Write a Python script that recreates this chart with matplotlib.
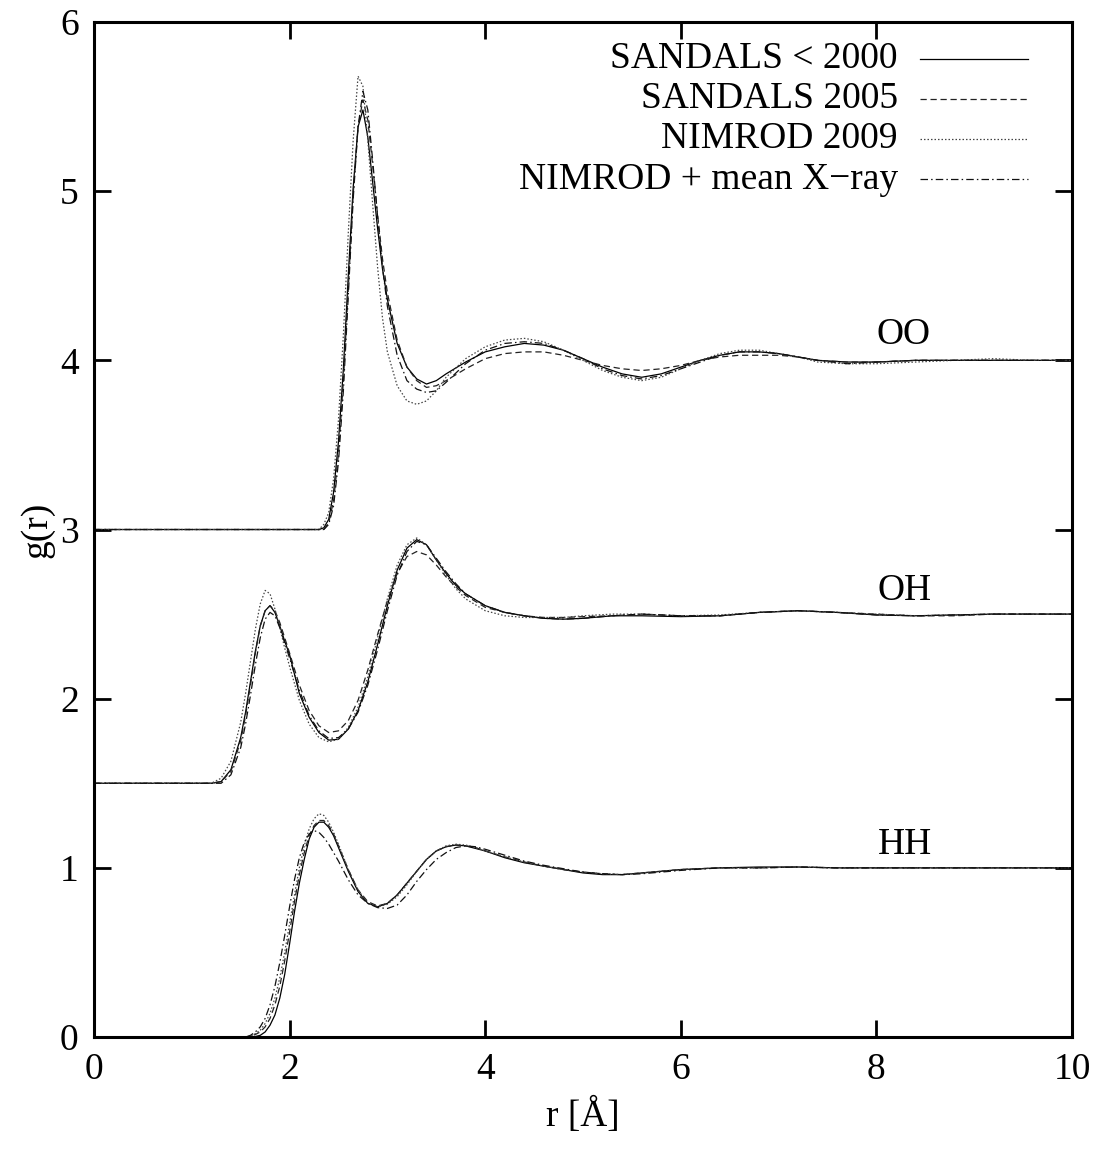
import matplotlib.pyplot as plt
from matplotlib import rcParams

rcParams['font.family'] = ['Liberation Serif', 'DejaVu Serif']
rcParams['mathtext.fontset'] = 'stix'

# ---- data (g(r) with vertical offsets already included) ----
series_names = ["SANDALS < 2000", "SANDALS 2005", "NIMROD 2009", "NIMROD + mean X\u2212ray"]

# OO, offset +3
r_oo = [0.0, 2.30, 2.35, 2.40, 2.45, 2.50, 2.55, 2.60, 2.65, 2.70, 2.75, 2.80, 2.85, 2.90,
        2.95, 3.00, 3.10, 3.20, 3.30, 3.40, 3.50, 3.60, 3.80, 4.00, 4.20, 4.40, 4.60, 4.80,
        5.00, 5.20, 5.40, 5.60, 5.80, 6.00, 6.20, 6.40, 6.60, 6.80, 7.00, 7.20, 7.40, 7.70,
        8.00, 8.40, 8.80, 9.20, 9.60, 10.0]
oo_sandals2000 = [3.00, 3.00, 3.01, 3.06, 3.22, 3.52, 3.95, 4.50, 5.02, 5.38, 5.48, 5.32, 5.05, 4.78,
                  4.54, 4.36, 4.10, 3.96, 3.89, 3.86, 3.88, 3.92, 3.99, 4.05, 4.08, 4.10, 4.09, 4.06,
                  4.01, 3.96, 3.92, 3.90, 3.92, 3.96, 4.00, 4.03, 4.05, 4.05, 4.04, 4.02, 4.00, 3.99,
                  3.99, 4.00, 4.00, 4.00, 4.00, 4.00]
oo_sandals2005 = [3.00, 3.00, 3.00, 3.04, 3.17, 3.45, 3.88, 4.42, 4.98, 5.38, 5.54, 5.42, 5.15, 4.86,
                  4.60, 4.40, 4.12, 3.96, 3.88, 3.84, 3.85, 3.88, 3.95, 4.01, 4.04, 4.05, 4.05, 4.03,
                  4.00, 3.97, 3.95, 3.94, 3.95, 3.97, 4.00, 4.02, 4.03, 4.03, 4.03, 4.02, 4.00, 3.99,
                  3.99, 4.00, 4.00, 4.00, 4.00, 4.00]
oo_nimrod2009 = [3.00, 3.00, 3.03, 3.10, 3.30, 3.65, 4.15, 4.75, 5.30, 5.68, 5.62, 5.30, 4.92, 4.55,
                 4.25, 4.05, 3.85, 3.76, 3.74, 3.76, 3.82, 3.90, 4.01, 4.08, 4.12, 4.13, 4.11, 4.06,
                 4.00, 3.94, 3.90, 3.88, 3.90, 3.95, 4.00, 4.04, 4.06, 4.06, 4.04, 4.02, 3.99, 3.98,
                 3.98, 3.99, 4.00, 4.01, 4.00, 4.00]
oo_xray = [3.00, 3.00, 3.00, 3.03, 3.14, 3.40, 3.82, 4.38, 4.95, 5.38, 5.59, 5.48, 5.18, 4.85,
           4.55, 4.32, 4.03, 3.88, 3.83, 3.81, 3.82, 3.87, 3.98, 4.06, 4.10, 4.11, 4.10, 4.06,
           4.01, 3.95, 3.91, 3.89, 3.91, 3.95, 3.99, 4.03, 4.05, 4.05, 4.04, 4.02, 4.00, 3.98,
           3.99, 4.00, 4.00, 4.00, 4.00, 4.00]

# OH, offset +1.5
r_oh = [0.0, 1.20, 1.30, 1.40, 1.50, 1.55, 1.60, 1.65, 1.70, 1.75, 1.80, 1.85, 1.90, 1.95,
        2.00, 2.10, 2.20, 2.30, 2.40, 2.50, 2.60, 2.70, 2.80, 2.90, 3.00, 3.10, 3.20, 3.30,
        3.40, 3.50, 3.60, 3.70, 3.80, 4.00, 4.20, 4.40, 4.60, 4.80, 5.00, 5.30, 5.60, 6.00,
        6.40, 6.80, 7.20, 7.60, 8.00, 8.40, 8.80, 9.20, 9.60, 10.0]
oh_sandals2000 = [1.50, 1.50, 1.51, 1.58, 1.77, 1.92, 2.10, 2.28, 2.43, 2.52, 2.55, 2.51, 2.43, 2.34,
                  2.26, 2.03, 1.89, 1.80, 1.755, 1.76, 1.82, 1.93, 2.10, 2.32, 2.55, 2.76, 2.89, 2.94,
                  2.91, 2.82, 2.74, 2.67, 2.62, 2.55, 2.51, 2.49, 2.475, 2.47, 2.475, 2.49, 2.49, 2.485,
                  2.49, 2.51, 2.52, 2.51, 2.495, 2.49, 2.495, 2.50, 2.50, 2.50]
oh_sandals2005 = [1.50, 1.50, 1.51, 1.57, 1.75, 1.90, 2.08, 2.27, 2.43, 2.52, 2.55, 2.52, 2.45, 2.36,
                  2.27, 2.08, 1.93, 1.84, 1.80, 1.81, 1.87, 1.99, 2.17, 2.38, 2.58, 2.74, 2.84, 2.87,
                  2.85, 2.79, 2.72, 2.66, 2.61, 2.54, 2.51, 2.49, 2.48, 2.48, 2.485, 2.49, 2.50, 2.49,
                  2.49, 2.51, 2.52, 2.51, 2.50, 2.49, 2.49, 2.50, 2.50, 2.50]
oh_nimrod2009 = [1.50, 1.50, 1.53, 1.63, 1.86, 2.03, 2.22, 2.41, 2.56, 2.64, 2.62, 2.53, 2.42, 2.30,
                 2.19, 1.99, 1.85, 1.77, 1.745, 1.76, 1.83, 1.95, 2.13, 2.36, 2.59, 2.79, 2.91, 2.95,
                 2.91, 2.82, 2.73, 2.65, 2.59, 2.52, 2.49, 2.48, 2.48, 2.48, 2.49, 2.50, 2.50, 2.49,
                 2.495, 2.51, 2.52, 2.51, 2.50, 2.49, 2.495, 2.50, 2.50, 2.50]
oh_xray = [1.50, 1.50, 1.50, 1.55, 1.71, 1.85, 2.02, 2.20, 2.36, 2.47, 2.51, 2.49, 2.42, 2.33,
           2.24, 2.05, 1.90, 1.81, 1.765, 1.77, 1.82, 1.92, 2.08, 2.29, 2.52, 2.73, 2.87, 2.93,
           2.91, 2.83, 2.75, 2.68, 2.62, 2.55, 2.51, 2.49, 2.475, 2.47, 2.475, 2.49, 2.50, 2.49,
           2.49, 2.51, 2.52, 2.51, 2.495, 2.49, 2.495, 2.50, 2.50, 2.50]

# HH, no offset
r_hh = [0.0, 1.55, 1.60, 1.65, 1.70, 1.75, 1.80, 1.85, 1.90, 1.95, 2.00, 2.05, 2.10, 2.15,
        2.20, 2.25, 2.30, 2.35, 2.40, 2.45, 2.50, 2.60, 2.70, 2.80, 2.90, 3.00, 3.10, 3.20,
        3.30, 3.40, 3.50, 3.60, 3.70, 3.80, 3.90, 4.00, 4.20, 4.40, 4.60, 4.80, 5.00, 5.20,
        5.40, 5.60, 5.80, 6.00, 6.40, 6.80, 7.20, 7.60, 8.00, 8.50, 9.00, 9.50, 10.0]
hh_sandals2000 = [0.0, 0.0, 0.0, 0.003, 0.01, 0.03, 0.07, 0.13, 0.23, 0.37, 0.55, 0.74, 0.91, 1.05,
                  1.17, 1.24, 1.27, 1.27, 1.24, 1.19, 1.12, 0.98, 0.86, 0.79, 0.77, 0.79, 0.84, 0.91,
                  0.98, 1.05, 1.10, 1.125, 1.135, 1.13, 1.115, 1.10, 1.06, 1.03, 1.01, 0.99, 0.97, 0.96,
                  0.96, 0.97, 0.98, 0.99, 1.00, 1.005, 1.005, 1.00, 1.00, 1.00, 1.00, 1.00, 1.00]
hh_sandals2005 = [0.0, 0.0, 0.005, 0.015, 0.03, 0.06, 0.11, 0.19, 0.30, 0.45, 0.62, 0.80, 0.96, 1.09,
                  1.19, 1.25, 1.28, 1.28, 1.25, 1.20, 1.13, 0.99, 0.87, 0.80, 0.775, 0.79, 0.84, 0.91,
                  0.98, 1.05, 1.10, 1.125, 1.135, 1.13, 1.12, 1.10, 1.065, 1.035, 1.01, 0.99, 0.975, 0.965,
                  0.96, 0.97, 0.98, 0.99, 1.00, 1.00, 1.005, 1.00, 1.00, 1.00, 1.00, 1.00, 1.00]
hh_nimrod2009 = [0.0, 0.0, 0.005, 0.02, 0.04, 0.08, 0.14, 0.23, 0.35, 0.50, 0.67, 0.84, 1.00, 1.13,
                 1.23, 1.29, 1.32, 1.31, 1.27, 1.21, 1.14, 0.99, 0.87, 0.79, 0.77, 0.785, 0.83, 0.90,
                 0.98, 1.05, 1.10, 1.13, 1.14, 1.135, 1.12, 1.10, 1.065, 1.035, 1.01, 0.99, 0.975, 0.965,
                 0.96, 0.97, 0.98, 0.99, 1.00, 1.00, 1.005, 1.00, 1.00, 1.00, 1.00, 1.00, 1.00]
hh_xray = [0.0, 0.0, 0.01, 0.03, 0.06, 0.11, 0.19, 0.30, 0.44, 0.60, 0.77, 0.93, 1.06, 1.15,
           1.20, 1.22, 1.21, 1.18, 1.14, 1.09, 1.04, 0.93, 0.84, 0.79, 0.765, 0.76, 0.78, 0.84,
           0.92, 0.99, 1.05, 1.09, 1.12, 1.13, 1.125, 1.11, 1.075, 1.04, 1.015, 0.995, 0.975, 0.965,
           0.96, 0.965, 0.975, 0.985, 1.00, 1.00, 1.005, 1.00, 1.00, 1.00, 1.00, 1.00, 1.00]

pair_labels = ["OO", "OH", "HH"]
label_x = [8.28, 8.29, 8.29]
label_y = [4.15, 2.64, 1.135]

# line styles in gnuplot look
styles = [
    dict(color='black', lw=0.9, linestyle='-'),
    dict(color='#222222', lw=0.9, linestyle=(0, (5, 3))),
    dict(color='#444444', lw=0.9, linestyle=(0, (1.2, 1.6))),
    dict(color='#111111', lw=0.9, linestyle=(0, (6, 2.5, 1.2, 2.5))),
]

fig = plt.figure(figsize=(11.03, 11.52), dpi=100)
ax = fig.add_axes([0.0852, 0.0998, 0.8867, 0.8811])

curves = [
    (r_oo, [oo_sandals2000, oo_sandals2005, oo_nimrod2009, oo_xray]),
    (r_oh, [oh_sandals2000, oh_sandals2005, oh_nimrod2009, oh_xray]),
    (r_hh, [hh_sandals2000, hh_sandals2005, hh_nimrod2009, hh_xray]),
]
for r, ys in curves:
    for y, st in zip(ys, styles):
        ax.plot(r, y, **st)

for lab, lx, ly in zip(pair_labels, label_x, label_y):
    ax.text(lx, ly, lab, ha='center', va='center', fontsize=27)

# legend drawn by hand: right-aligned labels, sample line to the right
leg_y = [0.9635, 0.924, 0.8847, 0.845]
for name, st, yy in zip(series_names, styles, leg_y):
    ax.text(0.822, yy, name, transform=ax.transAxes, ha='right', va='center', fontsize=27)
    ax.plot([0.845, 0.955], [yy, yy], transform=ax.transAxes, **st)

ax.set_xlim(0, 10)
ax.set_ylim(0, 6)
ax.set_xticks([0, 2, 4, 6, 8, 10])
ax.set_yticks([0, 1, 2, 3, 4, 5, 6])
ax.tick_params(direction='in', length=12, width=2, top=True, right=True,
               labelsize=27, pad=11)
for s in ax.spines.values():
    s.set_linewidth(2.2)

ax.set_xlabel("r [\u00c5]", fontsize=27, labelpad=8)
ax.set_ylabel("g(r)", fontsize=27, labelpad=4)

plt.savefig("out.png", dpi=100)
